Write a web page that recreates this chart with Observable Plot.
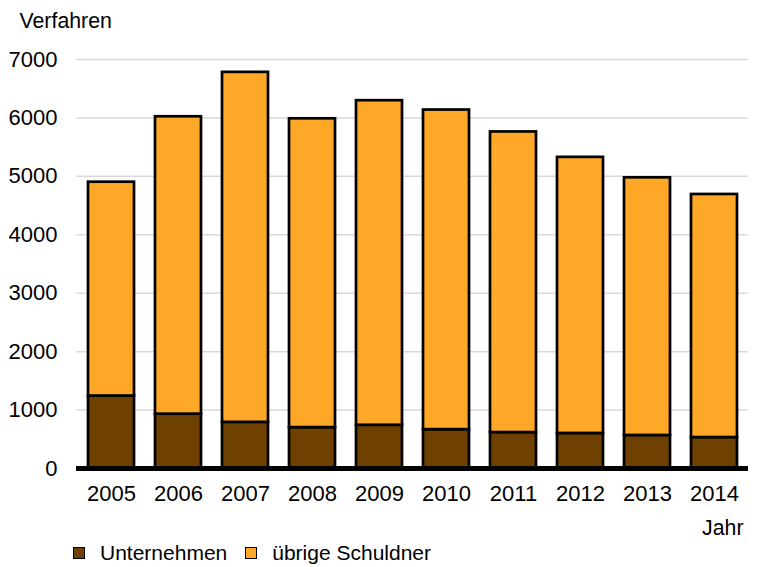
<!DOCTYPE html>
<html>
<head>
<meta charset="utf-8">
<script src="https://cdn.jsdelivr.net/npm/d3@7"></script>
<script src="https://cdn.jsdelivr.net/npm/@observablehq/plot@0.6"></script>
<style>
  body { margin: 0; background: #fff; font-family: "Liberation Sans", Arial, sans-serif; }
  #wrap { position: relative; width: 759px; height: 567px; }
  #legend { position: absolute; left: 73px; top: 541px; display: flex; align-items: center; font-size: 21px; color: #000; }
  .sw { width: 10px; height: 10px; border: 1.5px solid #000; display: inline-block; margin-right: 15px; }
</style>
</head>
<body>
<div id="wrap"></div>
<script>
const years = ["2005","2006","2007","2008","2009","2010","2011","2012","2013","2014"];
const totals = [4900, 6020, 6780, 5985, 6295, 6135, 5760, 5325, 4975, 4690];
const unternehmen = [1240, 930, 790, 700, 740, 665, 615, 600, 565, 530];
const uebrige = totals.map((t, i) => t - unternehmen[i]);
const seriesNames = ["Unternehmen", "übrige Schuldner"];
const seriesColors = ["#6E4100", "#FFA726"];
const yTicks = [0, 1000, 2000, 3000, 4000, 5000, 6000, 7000];

const rows = [];
years.forEach((y, i) => {
  rows.push({year: y, series: seriesNames[0], value: unternehmen[i]});
  rows.push({year: y, series: seriesNames[1], value: uebrige[i]});
});

const FS = 22;
const FT = 21.3;
const chart = Plot.plot({
  width: 759,
  height: 540,
  marginTop: 59,
  marginLeft: 76,
  marginRight: 11,
  marginBottom: 72,
  style: {fontFamily: "Liberation Sans, Arial, sans-serif", fontSize: FS + "px", color: "#000", background: "#fff"},
  x: {domain: years, paddingInner: 0.32, paddingOuter: 0.16, label: null},
  y: {domain: [0, 7000], label: null},
  color: {domain: seriesNames, range: seriesColors},
  marks: [
    Plot.gridY(yTicks, {stroke: "#d9d9d9", strokeOpacity: 1, strokeWidth: 1.5}),
    Plot.barY(rows, Plot.stackY({x: "year", y: "value", fill: "series", order: seriesNames, stroke: "#000", strokeWidth: 2.7})),
    Plot.ruleY([0], {stroke: "#000", strokeWidth: 5}),
    Plot.axisY(yTicks, {tickSize: 0, tickPadding: 19, tickFormat: d => String(d), fontSize: FS, label: null}),
    Plot.axisX({tickSize: 0, tickPadding: 17, fontSize: FS, label: null}),
    Plot.text(["Verfahren"], {frameAnchor: "top-left", dx: -57, dy: -47, textAnchor: "start", fontSize: FT}),
    Plot.text(["Jahr"], {frameAnchor: "bottom-right", dx: -5, dy: 66, textAnchor: "end", fontSize: FT})
  ]
});
const wrap = document.getElementById("wrap");
wrap.appendChild(chart);
const legend = document.createElement("div");
legend.id = "legend";
seriesNames.forEach((n, i) => {
  const item = document.createElement("span");
  item.style.display = "inline-flex";
  item.style.alignItems = "center";
  item.style.marginRight = i === 0 ? "18px" : "0";
  const sw = document.createElement("span");
  sw.className = "sw";
  sw.style.background = seriesColors[i];
  item.appendChild(sw);
  item.appendChild(document.createTextNode(n));
  legend.appendChild(item);
});
wrap.appendChild(legend);
</script>
</body>
</html>
